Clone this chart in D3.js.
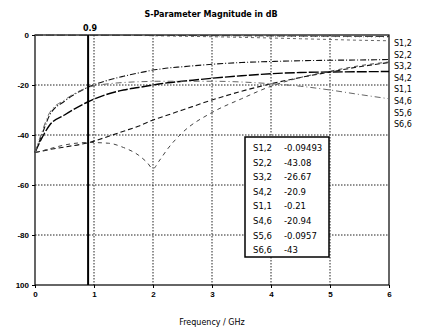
<!DOCTYPE html>
<html>
<head>
<meta charset="utf-8">
<script src="https://cdn.jsdelivr.net/npm/d3@7"></script>
<style>
  body { margin: 0; background: #fff; }
  svg { font-family: 'DejaVu Sans', sans-serif; }
</style>
</head>
<body>
<div class="sparam_chart"></div>
<script>
// frequency points (GHz) shared by all traces
const freq = [0, 0.1, 0.25, 0.5, 0.9, 1.25, 1.5, 1.75, 1.9, 2, 2.1, 2.25, 2.5, 3, 3.5, 4, 4.5, 5, 5.5, 6];

// magnitudes in dB
const s12 = [-0.05, -0.05, -0.06, -0.07, -0.09, -0.12, -0.16, -0.2, -0.24, -0.3, -0.34, -0.4, -0.5, -0.7, -0.95, -1.2, -1.5, -1.8, -2.1, -2.3];
const s22 = [-47, -46.5, -45.8, -44.8, -43.1, -40.5, -38.5, -36.5, -35, -34, -33.2, -32, -30, -26, -22.5, -19.5, -17, -14.8, -12.7, -11];
const s32 = [-47, -42, -36, -32, -26.7, -23.5, -22, -21, -20.4, -20, -19.6, -19.1, -18.5, -17.3, -16.3, -15.5, -15, -14.8, -14.7, -14.6];
const s42 = [-47, -41, -32, -26.5, -20.9, -18, -16.5, -15.2, -14.5, -14, -13.7, -13.2, -12.7, -11.7, -11, -10.6, -10.3, -10.1, -10, -9.8];
const s11 = [-0.02, -0.02, -0.03, -0.05, -0.08, -0.1, -0.12, -0.15, -0.17, -0.18, -0.2, -0.22, -0.26, -0.33, -0.4, -0.48, -0.56, -0.64, -0.72, -0.8];
const s46 = [-47, -40, -31, -26, -20.94, -19.5, -19, -18.7, -18.6, -18.5, -18.5, -18.5, -18.5, -18.5, -18.8, -19.5, -20.5, -22, -23.8, -25.5];
const s56 = [-0.05, -0.05, -0.06, -0.08, -0.0957, -0.11, -0.12, -0.14, -0.15, -0.16, -0.17, -0.18, -0.2, -0.25, -0.3, -0.36, -0.42, -0.48, -0.54, -0.6];
const s66 = [-47, -46.5, -45.5, -44, -43, -43.3, -45, -48, -51, -53.5, -50.5, -45.5, -39, -31, -25.5, -20.5, -17, -14.5, -12.3, -10.8];

const traceNames = ['S1,2', 'S2,2', 'S3,2', 'S4,2', 'S1,1', 'S4,6', 'S5,6', 'S6,6'];
const traceValues = [s12, s22, s32, s42, s11, s46, s56, s66];
const markerFreq = 0.9;
const markerReadout = ['-0.09493', '-43.08', '-26.67', '-20.9', '-0.21', '-20.94', '-0.0957', '-43'];

const xTicks = [0, 1, 2, 3, 4, 5, 6];
const yTicks = [0, -20, -40, -60, -80, -100];
const yTickLabels = ['0', '-20', '-40', '-60', '-80', '100'];

// line look per trace (same order as traceNames)
const traceStyle = [
    { dash: '3,3', color: '#666', w: 1 },
    { dash: '5,3', color: '#111', w: 1.1 },
    { dash: '10,2', color: '#000', w: 1.4 },
    { dash: '6,2,1,2', color: '#111', w: 1.1 },
    { dash: '1,3', color: '#777', w: 1 },
    { dash: '6,3,1,3', color: '#666', w: 1 },
    { dash: '8,3', color: '#333', w: 1 },
    { dash: '4,4', color: '#444', w: 1 }
];

const width = 422, height = 328;
const plot = { left: 35, right: 389, top: 35, bottom: 285 };

const svg = d3.select('.sparam_chart')
    .append('svg')
    .attr('width', width)
    .attr('height', height);

const x = d3.scaleLinear().domain([0, 6]).range([plot.left, plot.right]);
const y = d3.scaleLinear().domain([-100, 0]).range([plot.bottom, plot.top]);

svg.append('text')
    .attr('x', 211).attr('y', 17)
    .attr('text-anchor', 'middle')
    .style('font-size', '8px')
    .style('font-weight', 'bold')
    .text('S-Parameter Magnitude in dB');

// dotted grid
const grid = svg.append('g')
    .attr('stroke', '#222')
    .attr('stroke-width', 1)
    .attr('stroke-dasharray', '1.5,1.5');

grid.selectAll('line.vx')
    .data(xTicks.slice(1, -1))
    .enter().append('line')
    .attr('class', 'vx')
    .attr('x1', d => x(d)).attr('x2', d => x(d))
    .attr('y1', plot.top).attr('y2', plot.bottom);

grid.selectAll('line.hy')
    .data(yTicks.slice(1, -1))
    .enter().append('line')
    .attr('class', 'hy')
    .attr('y1', d => y(d)).attr('y2', d => y(d))
    .attr('x1', plot.left).attr('x2', plot.right);

// axes
const xAxis = svg.append('g')
    .attr('transform', `translate(0,${plot.bottom})`)
    .call(d3.axisBottom(x).tickValues(xTicks).tickFormat(d3.format('d')).tickSize(3).tickSizeOuter(0));

const yAxis = svg.append('g')
    .attr('transform', `translate(${plot.left},0)`)
    .call(d3.axisLeft(y).tickValues(yTicks).tickFormat((d, i) => yTickLabels[i]).tickSize(3).tickSizeOuter(0));

[xAxis, yAxis].forEach(a => {
    a.select('.domain').remove();
    a.selectAll('text')
        .style('font-size', '8px')
        .style('font-weight', 'bold')
        .attr('fill', '#000');
    a.selectAll('line').attr('stroke', '#000');
});

// frame
svg.append('rect')
    .attr('x', plot.left).attr('y', plot.top)
    .attr('width', plot.right - plot.left)
    .attr('height', plot.bottom - plot.top)
    .attr('fill', 'none')
    .attr('stroke', '#000')
    .attr('stroke-width', 1.2);

// traces
const line = d3.line()
    .x((d, i) => x(freq[i]))
    .y(d => y(d))
    .curve(d3.curveMonotoneX);

svg.append('g')
    .selectAll('path')
    .data(traceValues)
    .enter().append('path')
    .attr('d', d => line(d))
    .attr('fill', 'none')
    .attr('stroke', (d, i) => traceStyle[i].color)
    .attr('stroke-width', (d, i) => traceStyle[i].w)
    .attr('stroke-dasharray', (d, i) => traceStyle[i].dash);

// marker line at 0.9 GHz
svg.append('line')
    .attr('x1', x(markerFreq)).attr('x2', x(markerFreq))
    .attr('y1', plot.top).attr('y2', plot.bottom)
    .attr('stroke', '#000')
    .attr('stroke-width', 2);

svg.append('text')
    .attr('x', x(markerFreq) + 2).attr('y', 31)
    .attr('text-anchor', 'middle')
    .style('font-size', '8px')
    .style('font-weight', 'bold')
    .text(markerFreq);

// marker readout box
const box = { x: 245, y: 137, w: 84, h: 120 };
svg.append('rect')
    .attr('x', box.x).attr('y', box.y)
    .attr('width', box.w).attr('height', box.h)
    .attr('fill', '#fff')
    .attr('stroke', '#000')
    .attr('stroke-width', 1.5);

const rows = svg.append('g')
    .selectAll('g')
    .data(traceNames)
    .enter().append('g')
    .attr('transform', (d, i) => `translate(${box.x + 8},${box.y + 14 + i * 14.6})`)
    .style('font-size', '8.5px');

rows.append('text').text(d => d);
rows.append('text').attr('x', 31).text((d, i) => markerReadout[i]);

// trace names down the right side
svg.append('g')
    .selectAll('text')
    .data(traceNames)
    .enter().append('text')
    .attr('x', 394)
    .attr('y', (d, i) => 46 + i * 11.6)
    .style('font-size', '8px')
    .text(d => d);

svg.append('text')
    .attr('x', 212).attr('y', 325)
    .attr('text-anchor', 'middle')
    .style('font-size', '8px')
    .text('Frequency / GHz');
</script>
</body>
</html>
